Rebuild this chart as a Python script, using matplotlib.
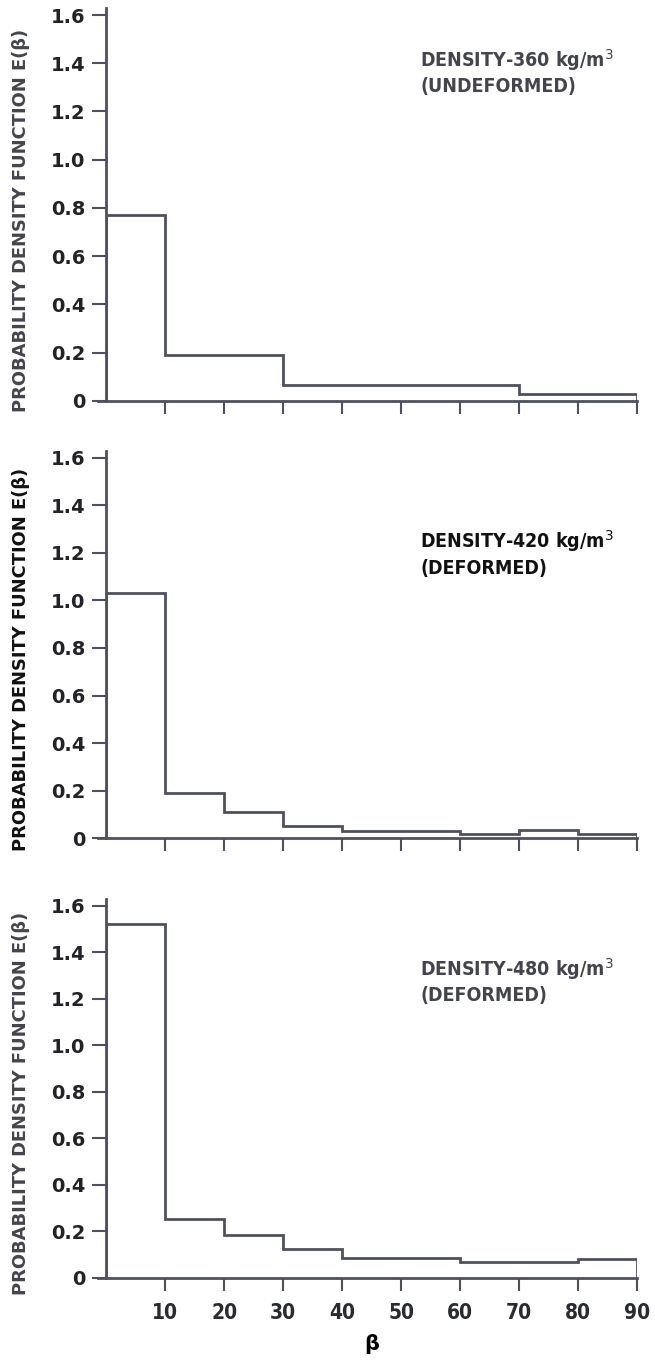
import matplotlib.pyplot as plt
import numpy as np

# bin edges of beta (deg) and density values
edges = [0, 10, 20, 30, 40, 50, 60, 70, 80, 90]
pdf_360 = [0.77, 0.19, 0.19, 0.065, 0.065, 0.065, 0.065, 0.03, 0.03]
pdf_420 = [1.03, 0.19, 0.11, 0.05, 0.03, 0.03, 0.015, 0.035, 0.015]
pdf_480 = [1.52, 0.255, 0.185, 0.125, 0.085, 0.085, 0.068, 0.068, 0.08]

labels = ['DENSITY-360 kg/m$^3$\n(UNDEFORMED)',
          'DENSITY-420 kg/m$^3$\n(DEFORMED)',
          'DENSITY-480 kg/m$^3$\n(DEFORMED)']
yticks = [0, 0.2, 0.4, 0.6, 0.8, 1.0, 1.2, 1.4, 1.6]
ytick_labels = ['0', '0.2', '0.4', '0.6', '0.8', '1.0', '1.2', '1.4', '1.6']
xticks = [10, 20, 30, 40, 50, 60, 70, 80, 90]

line_col = '#4e5060'
gray_txt = '#44444e'

fig = plt.figure(figsize=(6.55, 13.62), dpi=100)
boxes = [[0.162, 0.7056, 0.811, 0.2887],
         [0.162, 0.3847, 0.811, 0.2843],
         [0.162, 0.0617, 0.811, 0.2783]]
text_y = [0.90, 0.80, 0.85]
txt_cols = [gray_txt, '#111111', gray_txt]

for k, (vals, lab, box) in enumerate(zip([pdf_360, pdf_420, pdf_480], labels, boxes)):
    ax = fig.add_axes(box)
    ax.stairs(vals, edges, color=line_col, linewidth=2.0)
    ax.set_xlim(0, 90)
    ax.set_ylim(0, 1.63)
    for s in ['top', 'right']:
        ax.spines[s].set_visible(False)
    for s in ['left', 'bottom']:
        ax.spines[s].set_color(line_col)
        ax.spines[s].set_linewidth(2.0)
    ax.spines['bottom'].set_bounds(-1.4, 90)
    ax.spines['bottom'].set_clip_on(False)
    ax.set_yticks(yticks)
    ax.set_yticklabels(ytick_labels, fontsize=14, fontweight='bold', color='#222228')
    ax.tick_params(axis='y', direction='out', length=10, width=1.5, color=line_col, pad=5)
    ax.set_xticks(xticks)
    ax.tick_params(axis='x', direction='out', length=9, width=1.5, color=line_col, pad=9)
    if k == 2:
        ax.set_xticklabels([str(v) for v in xticks], fontsize=15, fontweight='bold',
                           fontstretch='condensed', color='#2a2a32')
        ax.set_xlabel('β', fontsize=15, fontweight='bold', color='black', labelpad=8)
    else:
        ax.set_xticklabels([])
    ax.set_ylabel('PROBABILITY DENSITY FUNCTION E(β)', fontsize=12.9, fontweight='bold',
                  color=txt_cols[k])
    ax.yaxis.set_label_coords(-0.143, 0.46)
    ax.text(0.591, text_y[k], lab, transform=ax.transAxes, fontsize=14, fontweight='bold',
            fontstretch='condensed', color=txt_cols[k], va='top', linespacing=1.3)

fig.savefig('out.png', dpi=100)
